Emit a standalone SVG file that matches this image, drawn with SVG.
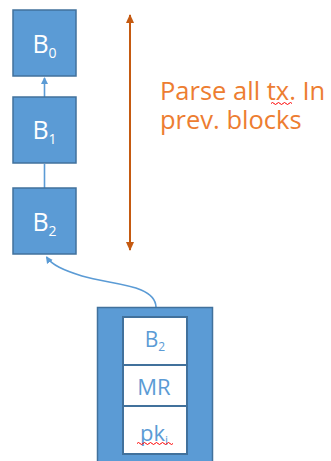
<svg xmlns="http://www.w3.org/2000/svg" width="331" height="461" viewBox="0 0 331 461">
<style>
.blk{fill:#5B9BD5;stroke:#41719C;stroke-width:1.5}
.cell{fill:#FFFFFF;stroke:#41719C;stroke-width:2}
.wt{font-family:"Open Sans","Noto Sans",sans-serif;fill:#FFFFFF;text-anchor:middle}
.bt{font-family:"Open Sans","Noto Sans",sans-serif;fill:#5B9BD5;text-anchor:middle}
.ot{font-family:"Open Sans","Noto Sans",sans-serif;fill:#ED7D31;font-size:25.5px}
.conn{fill:none;stroke:#5B9BD5;stroke-width:1.6}
.squig{fill:none;stroke:#FF0000;stroke-width:1}
</style>
<defs>
<marker id="ah" markerWidth="8" markerHeight="8" refX="6" refY="4" orient="auto" markerUnits="userSpaceOnUse">
<path d="M0,0.5 L7,4 L0,7.5 z" fill="#5B9BD5"/>
</marker>
<marker id="oh" markerWidth="10" markerHeight="10" refX="8" refY="5" orient="auto-start-reverse" markerUnits="userSpaceOnUse">
<path d="M0,1 L9,5 L0,9 z" fill="#C55A11"/>
</marker>
</defs>
<g id="connectors">
<line class="conn" x1="44.5" y1="97" x2="44.5" y2="78" marker-end="url(#ah)"/>
<line class="conn" x1="44.5" y1="188" x2="44.5" y2="164"/>
<path class="conn" d="M156,307 C155,284 112,285 82,276 C63,270 52,265 46.5,257" marker-end="url(#ah)"/>
<line x1="130" y1="15" x2="130" y2="250" stroke="#C55A11" stroke-width="2" marker-start="url(#oh)" marker-end="url(#oh)"/>
</g>
<g id="B0">
<rect class="blk" x="13" y="10" width="63" height="66"/>
<text class="wt" x="44.5" y="53" font-size="25">B<tspan font-size="14" dy="5">0</tspan></text>
</g>
<g id="B1">
<rect class="blk" x="13" y="97" width="63" height="66"/>
<text class="wt" x="44.5" y="139" font-size="25">B<tspan font-size="14" dy="5">1</tspan></text>
</g>
<g id="B2">
<rect class="blk" x="13" y="188" width="63" height="66"/>
<text class="wt" x="44.5" y="231" font-size="25">B<tspan font-size="14" dy="5">2</tspan></text>
</g>
<g id="label">
<text class="ot"><tspan x="160" y="100">Parse all tx. In</tspan><tspan x="160" y="129">prev. blocks</tspan></text>
<path class="squig" d="M271,103.5 q1.5,-2 3,0 t3,0 t3,0 t3,0 t3,0 t3,0 t3,0"/>
</g>
<g id="newblock">
<rect class="blk" x="97.5" y="307.5" width="115" height="165" stroke-width="2"/>
<rect class="cell" x="123" y="317" width="64" height="48"/>
<rect class="cell" x="123" y="365" width="64" height="41"/>
<rect class="cell" x="123" y="406" width="64" height="48"/>
<text class="bt" x="155" y="347" font-size="21">B<tspan font-size="12" dy="4">2</tspan></text>
<text class="bt" x="154" y="395" font-size="22">MR</text>
<text class="bt" x="154" y="441" font-size="22">pk<tspan font-size="12" dy="4">i</tspan></text>
<path class="squig" d="M137,443.5 q1.5,-2 3,0 t3,0 t3,0 t3,0 t3,0 t3,0 t3,0 t3,0 t3,0 t3,0 t3,0 t3,0"/>
</g>
</svg>
